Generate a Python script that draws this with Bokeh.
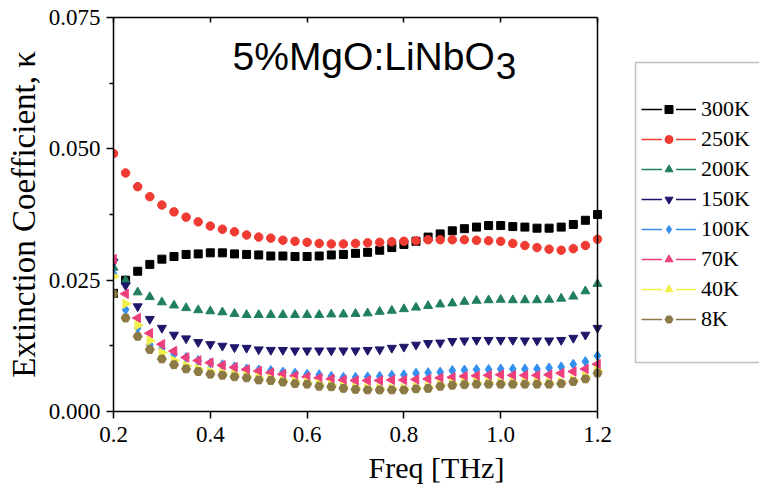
from bokeh.plotting import figure
from bokeh.models import (Range1d, FixedTicker, PrintfTickFormatter, LinearAxis,
                          Legend, LegendItem, Label, BoxAnnotation, Span, CustomJSTickFormatter)
from bokeh.embed import file_html
from bokeh.resources import INLINE
import math

freq = [0.2, 0.225, 0.25, 0.275, 0.3, 0.325, 0.35, 0.375, 0.4, 0.425,
        0.45, 0.475, 0.5, 0.525, 0.55, 0.575, 0.6, 0.625, 0.65, 0.675,
        0.7, 0.725, 0.75, 0.775, 0.8, 0.825, 0.85, 0.875, 0.9, 0.925,
        0.95, 0.975, 1.0, 1.025, 1.05, 1.075, 1.1, 1.125, 1.15, 1.175, 1.2]

k300 = [0.0225, 0.0250, 0.0267, 0.0280, 0.0290, 0.0295, 0.0299, 0.0300, 0.0302, 0.0302,
        0.0300, 0.0299, 0.0298, 0.0296, 0.0296, 0.0295, 0.0295, 0.0296, 0.0298, 0.0299,
        0.0301, 0.0303, 0.0307, 0.0312, 0.0318, 0.0324, 0.0332, 0.0338, 0.0344, 0.0348,
        0.0351, 0.0354, 0.0354, 0.0352, 0.0351, 0.0349, 0.0349, 0.0351, 0.0356, 0.0364, 0.0375]
k250 = [0.0491, 0.0454, 0.0428, 0.0409, 0.0393, 0.0380, 0.0370, 0.0361, 0.0353, 0.0347,
        0.0342, 0.0336, 0.0332, 0.0330, 0.0326, 0.0324, 0.0322, 0.0320, 0.0319, 0.0319,
        0.0320, 0.0321, 0.0322, 0.0323, 0.0324, 0.0325, 0.0327, 0.0327, 0.0327, 0.0327,
        0.0326, 0.0325, 0.0324, 0.0320, 0.0316, 0.0312, 0.0309, 0.0307, 0.0310, 0.0316, 0.0328]
k200 = [0.0274, 0.0249, 0.0227, 0.0218, 0.0208, 0.0202, 0.0197, 0.0193, 0.0191, 0.0189,
        0.0186, 0.0184, 0.0184, 0.0184, 0.0184, 0.0184, 0.0184, 0.0184, 0.0185, 0.0185,
        0.0186, 0.0187, 0.0190, 0.0192, 0.0195, 0.0198, 0.0201, 0.0204, 0.0206, 0.0209,
        0.0211, 0.0212, 0.0213, 0.0212, 0.0212, 0.0212, 0.0213, 0.0215, 0.0219, 0.0229, 0.0243]
k150 = [0.0285, 0.0240, 0.0200, 0.0176, 0.0159, 0.0146, 0.0139, 0.0132, 0.0128, 0.0125,
        0.0122, 0.0121, 0.0118, 0.0117, 0.0117, 0.0116, 0.0116, 0.0116, 0.0116, 0.0116,
        0.0116, 0.0117, 0.0118, 0.0121, 0.0123, 0.0127, 0.0130, 0.0131, 0.0134, 0.0135,
        0.0136, 0.0136, 0.0136, 0.0136, 0.0135, 0.0135, 0.0135, 0.0136, 0.0140, 0.0146, 0.0159]
k100 = [0.0262, 0.0194, 0.0159, 0.0127, 0.0120, 0.0109, 0.0103, 0.0097, 0.0092, 0.0089,
        0.0085, 0.0081, 0.0079, 0.0078, 0.0075, 0.0073, 0.0071, 0.0070, 0.0067, 0.0065,
        0.0065, 0.0066, 0.0067, 0.0069, 0.0070, 0.0073, 0.0074, 0.0075, 0.0078, 0.0079,
        0.0080, 0.0080, 0.0081, 0.0081, 0.0081, 0.0081, 0.0083, 0.0085, 0.0090, 0.0095, 0.0106]
k70 = [0.0290, 0.0224, 0.0178, 0.0149, 0.0128, 0.0115, 0.0103, 0.0097, 0.0093, 0.0088,
       0.0084, 0.0080, 0.0077, 0.0074, 0.0071, 0.0068, 0.0066, 0.0064, 0.0062, 0.0060,
       0.0059, 0.0059, 0.0059, 0.0060, 0.0060, 0.0061, 0.0062, 0.0064, 0.0065, 0.0067,
       0.0068, 0.0069, 0.0070, 0.0069, 0.0069, 0.0069, 0.0070, 0.0073, 0.0076, 0.0081, 0.0090]
k40 = [0.0257, 0.0205, 0.0164, 0.0135, 0.0112, 0.0097, 0.0087, 0.0081, 0.0076, 0.0073,
       0.0070, 0.0067, 0.0064, 0.0062, 0.0059, 0.0057, 0.0055, 0.0052, 0.0050, 0.0047,
       0.0045, 0.0044, 0.0044, 0.0044, 0.0044, 0.0046, 0.0047, 0.0051, 0.0053, 0.0054,
       0.0055, 0.0055, 0.0055, 0.0055, 0.0055, 0.0055, 0.0055, 0.0056, 0.0060, 0.0066, 0.0077]
k8 = [0.0224, 0.0178, 0.0143, 0.0118, 0.0100, 0.0089, 0.0081, 0.0076, 0.0071, 0.0069,
      0.0066, 0.0064, 0.0060, 0.0059, 0.0056, 0.0053, 0.0052, 0.0048, 0.0047, 0.0044,
      0.0042, 0.0041, 0.0041, 0.0041, 0.0041, 0.0043, 0.0044, 0.0048, 0.0050, 0.0051,
      0.0052, 0.0052, 0.0052, 0.0052, 0.0052, 0.0052, 0.0052, 0.0053, 0.0057, 0.0062, 0.0073]

labels = ["300K", "250K", "200K", "150K", "100K", "70K", "40K", "8K"]
series = [k300, k250, k200, k150, k100, k70, k40, k8]
colors = ["#000000", "#ef3b32", "#1f7f60", "#1e176a", "#3490f0", "#ee3f7d", "#f2ee4c", "#8c7a46"]
markers = ["square", "circle", "triangle", "inverted_triangle", "diamond", "triangle", "triangle", "hex"]
angles = [0, 0, 0, 0, 0, math.pi / 2, -math.pi / 2, 0]
sizes = [8, 8.5, 9, 9, 10, 9.5, 9.5, 9]

y_ticks = [0.0, 0.025, 0.05, 0.075]
y_minor = [0.0125, 0.0375, 0.0625]
x_ticks = [0.2, 0.4, 0.6, 0.8, 1.0, 1.2]
x_lo, x_hi = 0.2, 1.2

# frame spans to the canvas edge so the legend can sit at the right; axes are bounded
x_view_end = x_lo + (759 - 113) / 484.0

p = figure(width=759, height=500, output_backend="svg", toolbar_location=None,
           x_range=Range1d(x_lo, x_view_end), y_range=Range1d(0.0, 0.075),
           min_border_left=113, min_border_right=0, min_border_top=17, min_border_bottom=89)
p.background_fill_color = "white"
p.border_fill_color = "white"
p.outline_line_color = None
p.xgrid.visible = False
p.ygrid.visible = False

serif = "Liberation Serif"

xa = p.xaxis[0]
xa.ticker = FixedTicker(ticks=x_ticks, minor_ticks=[])
xa.formatter = PrintfTickFormatter(format="%.1f")
xa.bounds = (x_lo, x_hi)
ya = p.yaxis[0]
ya.ticker = FixedTicker(ticks=y_ticks, minor_ticks=y_minor)
ya.formatter = PrintfTickFormatter(format="%.3f")
for ax in (xa, ya):
    ax.axis_line_width = 1.5
    ax.major_tick_line_width = 1.5
    ax.minor_tick_line_width = 1.5
    ax.major_tick_in = 0
    ax.major_tick_out = 7
    ax.minor_tick_in = 0
    ax.minor_tick_out = 4
    ax.major_label_text_font = serif
    ax.major_label_text_font_size = "23px"
    ax.major_label_text_color = "black"
    ax.axis_label_text_font = serif
    ax.axis_label_text_font_style = "normal"
    ax.axis_label_text_color = "black"
xa.axis_label_text_font_size = "30px"
ya.axis_label_text_font_size = "33px"
xa.major_label_standoff = 8
ya.major_label_standoff = 6
xa.axis_label = "Freq [THz]"
ya.axis_label = "Extinction Coefficient, \u03ba"
xa.axis_label_standoff = 6
ya.axis_label_standoff = 4

blank = CustomJSTickFormatter(code="return ''")
top = LinearAxis(ticker=FixedTicker(ticks=x_ticks, minor_ticks=[]), formatter=blank,
                 bounds=(x_lo, x_hi),
                 major_tick_in=5, major_tick_out=0, minor_tick_in=0, minor_tick_out=0,
                 axis_line_width=1.5, major_tick_line_width=1.5,
                 major_label_text_font_size="1px", major_label_standoff=0)
p.add_layout(top, "above")

right_edge = Span(location=x_hi, dimension="height", line_color="black", line_width=1.5)
p.add_layout(right_edge)

# legend frame (reaches past the canvas edge like the reference)
box = BoxAnnotation(left=1.2785, right=3.0, top=0.06644, bottom=0.00933,
                    fill_color="white", fill_alpha=1.0, line_color="#333333", line_width=1.5)
p.add_layout(box)

nan = float("nan")
items = []
for lab, ys, c, m, a, s in zip(labels, series, colors, markers, angles, sizes):
    sc = p.scatter(freq, ys, marker=m, angle=a, size=s, fill_color=c, line_color=c)
    ln = p.line(x=[nan], y=[nan], line_color=c, line_width=1.5)
    gap = p.scatter(x=[nan], y=[nan], marker="square", size=9, fill_color="white",
                    line_color="white", line_width=6)
    items.append(LegendItem(label=lab, renderers=[ln, gap, sc]))

title1 = Label(x=0.4459, y=0.0676, text="5%MgO:LiNbO", text_font="Liberation Sans",
               text_font_size="39px", text_color="black", text_baseline="alphabetic")
title2 = Label(x=0.99, y=0.0657, text="3", text_font="Liberation Sans",
               text_font_size="37px", text_color="black", text_baseline="alphabetic")
p.add_layout(title1)
p.add_layout(title2)

legend = Legend(items=items, location=(528, 79), padding=6, margin=0, spacing=4,
                glyph_width=55, glyph_height=20, label_height=20, label_standoff=5,
                label_text_font=serif, label_text_font_size="22px", label_text_color="black",
                border_line_color=None, background_fill_alpha=0.0)
p.add_layout(legend, "center")

open("out.html", "w").write(file_html(p, INLINE))
